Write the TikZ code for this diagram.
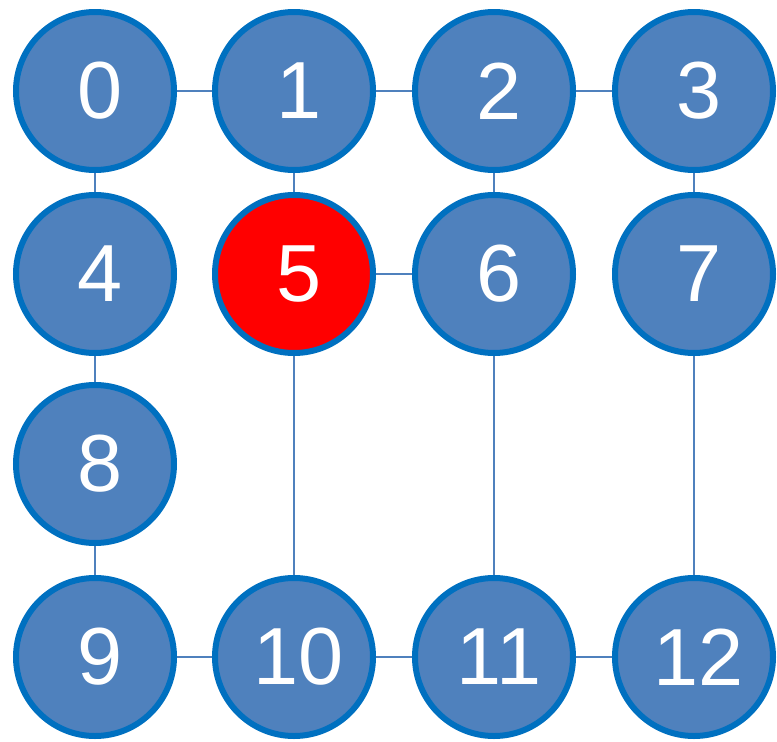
\documentclass[tikz,border=0pt]{standalone}
\usepackage{fontspec}
\setmainfont{Liberation Sans}
\usetikzlibrary{backgrounds}
\definecolor{nodefill}{HTML}{4F81BD}
\definecolor{nodeedge}{HTML}{0070C0}
\definecolor{linkcol}{HTML}{4F81BD}
\definecolor{hotfill}{HTML}{FF0000}
\newcommand{\shifted}[1]{\kern5pt#1\kern-5pt}
\begin{document}
\begin{tikzpicture}[x=1pt,y=-1pt,
  vertex/.style={circle,draw=nodeedge,line width=6pt,fill=nodefill,minimum size=158pt,inner sep=0pt,text=white,font=\fontsize{81}{81}\selectfont},
  hot/.style={vertex,fill=hotfill},
  link/.style={draw=linkcol,line width=2.5pt}]
\useasboundingbox (0,0) rectangle (777,742);
\node[vertex] (n0) at (95,91) {\shifted{0}};
\node[vertex] (n1) at (294,91) {\shifted{1}};
\node[vertex] (n2) at (494,91) {\shifted{2}};
\node[vertex] (n3) at (694,91) {\shifted{3}};
\node[vertex] (n4) at (95,274) {\shifted{4}};
\node[hot] (n5) at (294,274) {\shifted{5}};
\node[vertex] (n6) at (494,274) {\shifted{6}};
\node[vertex] (n7) at (694,274) {\shifted{7}};
\node[vertex] (n8) at (95,464) {\shifted{8}};
\node[vertex] (n9) at (95,657) {\shifted{9}};
\node[vertex] (n10) at (294,657) {\shifted{10}};
\node[vertex] (n11) at (494,657) {\shifted{11}};
\node[vertex] (n12) at (694,657) {\shifted{12}};
\begin{scope}[on background layer]
\draw[link] (n0) -- (n1);
\draw[link] (n1) -- (n2);
\draw[link] (n2) -- (n3);
\draw[link] (n0) -- (n4);
\draw[link] (n1) -- (n5);
\draw[link] (n2) -- (n6);
\draw[link] (n3) -- (n7);
\draw[link] (n5) -- (n6);
\draw[link] (n4) -- (n8);
\draw[link] (n8) -- (n9);
\draw[link] (n5) -- (n10);
\draw[link] (n6) -- (n11);
\draw[link] (n7) -- (n12);
\draw[link] (n9) -- (n10);
\draw[link] (n10) -- (n11);
\draw[link] (n11) -- (n12);
\end{scope}
\end{tikzpicture}
\end{document}
